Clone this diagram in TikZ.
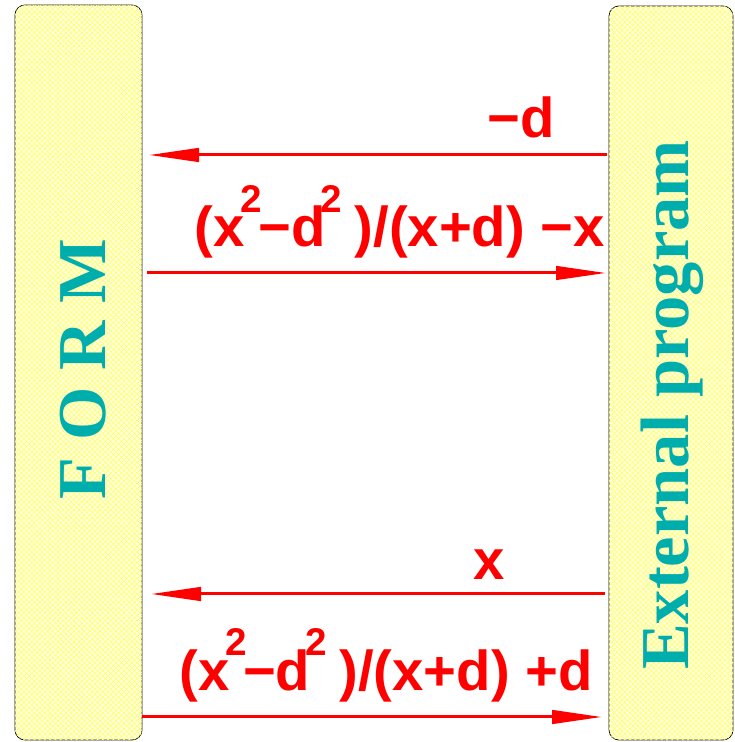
\documentclass[tikz,border=0pt]{standalone}
\usepackage{fontspec}
\setmainfont{Liberation Serif}
\newfontfamily\msgfont{Liberation Sans}
\usetikzlibrary{arrows.meta,patterns}
\definecolor{sideteal}{RGB}{0,173,173}
\definecolor{sideyellow}{RGB}{255,255,228}
\newcommand{\sqr}{\kern-0.08em\raisebox{0.62em}{\fontsize{22}{22}\selectfont 2}\kern-0.06em}

\begin{document}
\begin{tikzpicture}[
  side/.style={draw=black, thin, rounded corners=0.2cm, fill=sideyellow,
     postaction={pattern=crosshatch, pattern color=yellow!55}},
  sidetext/.style={text=sideteal, rotate=90, anchor=base, inner sep=0pt,
     font=\fontsize{39}{40}\selectfont\bfseries},
  msg/.style={draw=red, line width=0.06cm, -{Triangle[length=1cm,width=0.27cm]}},
  msgtext/.style={text=red, anchor=base east, inner sep=0pt,
     font=\msgfont\fontsize{32}{36}\selectfont\bfseries}]
\useasboundingbox (0,0) rectangle (14.68,14.84);
% the two sides
\draw [side] (0.30,0.04) rectangle (2.84,14.74);
\draw [side] (12.18,0.04) rectangle (14.66,14.72);
\node (form) [sidetext] at (2.10,7.45) {F O R M};
\node (extern) [sidetext] at (13.76,6.74) {External program};
% ends of the messages
\coordinate (r1) at (12.14,11.74);
\coordinate (l1) at (2.98,11.74);
\coordinate (l2) at (2.94,9.38);
\coordinate (r2) at (12.12,9.38);
\coordinate (r3) at (12.10,2.96);
\coordinate (l3) at (3.02,2.96);
\coordinate (l4) at (2.84,0.50);
\coordinate (r4) at (12.04,0.50);
\draw [msg] (r1) -- (l1);
\draw [msg] (l2) -- (r2);
\draw [msg] (r3) -- (l3);
\draw [msg] (l4) -- (r4);
\node (m1) [msgtext] at (11.10,12.08) {−d};
\node (m2) [msgtext] at (12.10,9.90) {(x\sqr−d\sqr\ )/(x+d) −x};
\node (m3) [msgtext] at (10.10,3.24) {x};
\node (m4) [msgtext] at (11.86,1.04) {(x\sqr−d\sqr\ )/(x+d) +d};
\end{tikzpicture}
\end{document}
